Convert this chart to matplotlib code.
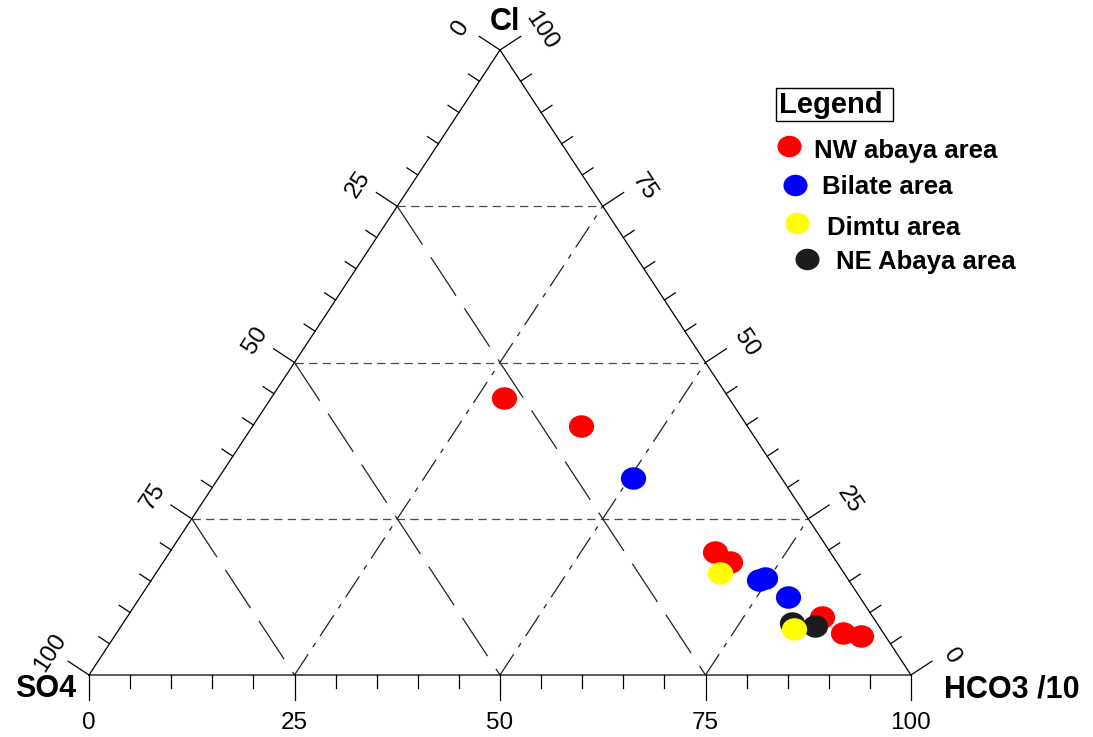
import numpy as np # numpy для простых вычислений с векторами
import matplotlib
matplotlib.use("Agg")
import matplotlib.pyplot as plt # matplotlib.pyplot для построения графика
from matplotlib.path import Path
from matplotlib.patches import Rectangle

plt.rcParams['font.family'] = ['Liberation Sans', 'DejaVu Sans'] # шрифт, похожий на Arial
plt.rcParams['lines.scale_dashes'] = False

'''ДАННЫЕ: доли (%) HCO3/10 и Cl для каждой группы проб (SO4 = 100 - HCO3 - Cl)'''
nw_hco3 = [28.3, 39.9, 66.3, 68.9, 84.5, 88.4, 90.8]
nw_cl = [44.3, 39.8, 19.7, 18.1, 9.3, 6.7, 6.2]
bilate_hco3 = [50.4, 73.9, 74.5, 78.8]
bilate_cl = [31.6, 15.2, 15.5, 12.5]
dimtu_hco3 = [68.6, 82.1]
dimtu_cl = [16.4, 7.3]
ne_hco3 = [81.4, 84.4]
ne_cl = [8.3, 7.8]

groups = ["NW abaya area", "Bilate area", "Dimtu area", "NE Abaya area"]
colors = ["#ff0000", "#0000ff", "#ffff00", "#1c1c1c"]
major_ticks = [0, 25, 50, 75, 100]

# положение треугольника на рисунке (в пикселях)
X0, Y0, W, H = 89, 675, 822, 625


def tern(hco3, cl):
    '''Перевод тройных координат (HCO3, Cl) в координаты рисунка'''
    x = X0 + W * (np.asarray(hco3) / 100 + np.asarray(cl) / 200)
    y = Y0 - H * np.asarray(cl) / 100
    return x, y


def main():
    fig = plt.figure(figsize=(10.93, 7.37), dpi=100)
    ax = fig.add_axes([0, 0, 1, 1])
    ax.set_xlim(0, 1093)
    ax.set_ylim(737, 0)
    ax.axis('off')

    # стороны треугольника
    vx, vy = tern([0, 100, 0, 0], [0, 0, 100, 0])
    ax.plot(vx, vy, color='black', lw=0.9, zorder=3)

    # сетка
    for v in [25, 50, 75]:
        x, y = tern([0, 100 - v], [v, v]) # постоянный Cl
        ax.plot(x, y, color='#4a4a4a', lw=0.9, linestyle=(0, (6, 3.8)), zorder=1)
        x, y = tern([0, 100 - v], [100 - v, 0]) # постоянный SO4
        ax.plot(x, y, color='#222222', lw=0.9, linestyle=(0, (33, 11)), zorder=1)
        x, y = tern([v, v], [0, 100 - v]) # постоянный HCO3
        ax.plot(x, y, color='#222222', lw=0.9, linestyle=(0, (18, 6, 3.5, 6)), zorder=1)

    # засечки
    norm = np.hypot(H, W / 2)
    n_left = np.array([-H, -W / 2]) / norm
    n_right = np.array([H, -W / 2]) / norm
    for v in range(0, 101, 5):
        ln = 25 if v in major_ticks else 13
        bx, by = tern(v, 0)
        ax.plot([bx, bx], [by, by + ln], color='black', lw=0.9)
        lx, ly = tern(0, 100 - v)
        ax.plot([lx, lx + n_left[0] * ln], [ly, ly + n_left[1] * ln], color='black', lw=0.9)
        rx, ry = tern(100 - v, v)
        ax.plot([rx, rx + n_right[0] * ln], [ry, ry + n_right[1] * ln], color='black', lw=0.9)

    # подписи засечек
    ang = np.degrees(np.arctan2(H, W / 2))
    for v in major_ticks:
        bx, by = tern(v, 0)
        ax.text(bx, by + 48, str(v), fontsize=17.5, ha='center', va='center')
        lx, ly = tern(0, 100 - v)
        ax.text(lx - 39, ly - 22, str(v), fontsize=17.5, ha='center', va='center',
                rotation=ang, rotation_mode='anchor')
        rx, ry = tern(100 - v, v)
        ax.text(rx + 41, ry - 19, str(v), fontsize=17.5, ha='center', va='center',
                rotation=-ang, rotation_mode='anchor')

    # названия вершин
    ax.text(505, 22, "Cl", fontsize=22, fontweight='bold', ha='center', va='center')
    ax.text(46, 689, "SO4", fontsize=22, fontweight='bold', ha='center', va='center')
    ax.text(1012, 689, "HCO3 /10", fontsize=22, fontweight='bold', ha='center', va='center')

    # маркер-эллипс (чуть шире, чем выше)
    circ = Path.unit_circle()
    ell = Path(circ.vertices * [1.12, 1.0], circ.codes)

    # точки: порядок отрисовки как на оригинале
    series = [(nw_hco3, nw_cl, 0), (bilate_hco3, bilate_cl, 1),
              (ne_hco3, ne_cl, 3), (dimtu_hco3, dimtu_cl, 2)]
    for z, (h, c, i) in enumerate(series):
        x, y = tern(h, c)
        ax.scatter(x, y, s=330, marker=ell, color=colors[i], linewidths=0, zorder=5 + z)

    # легенда
    ax.add_patch(Rectangle((776, 88), 117, 33, fill=False, ec='black', lw=1.0))
    ax.text(779, 105, "Legend", fontsize=21, fontweight='bold', ha='left', va='center')
    leg_mx = [789, 795, 797, 807]
    leg_my = [146, 185, 222.5, 258.5]
    leg_tx = [814, 822, 827, 836]
    leg_ty = [151, 187, 228, 262]
    for i in range(4):
        ax.scatter([leg_mx[i]], [leg_my[i]], s=300, marker=ell, color=colors[i], linewidths=0)
        ax.text(leg_tx[i], leg_ty[i], groups[i], fontsize=18.5, fontweight='bold', ha='left', va='center')

    fig.savefig("out.png", dpi=100)


if __name__ == "__main__":
    main()
